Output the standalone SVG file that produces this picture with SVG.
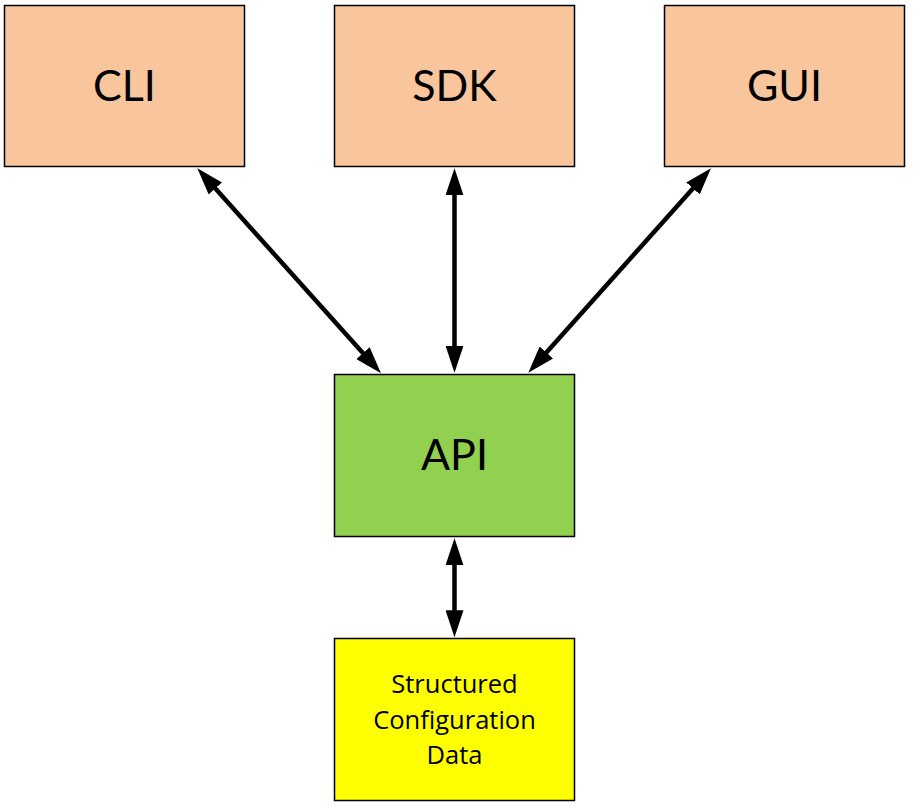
<svg xmlns="http://www.w3.org/2000/svg" width="917" height="808" viewBox="0 0 917 808">
  <style>
    .box { stroke: #000; stroke-width: 1.5; }
    .client { fill: #F8C59D; }
    .api { fill: #92D050; }
    .data { fill: #FFFF00; }
    .big { font-family: "Lato", "Open Sans", sans-serif; font-size: 43px; fill: #000; text-anchor: middle; }
    .small { font-family: "Open Sans", "Lato", sans-serif; font-size: 25.5px; fill: #000; text-anchor: middle; }
    .conn { stroke: #000; stroke-width: 4.5; fill: none; marker-start: url(#arrow); marker-end: url(#arrow); }
  </style>
  <defs>
    <marker id="arrow" viewBox="0 0 27 18" refX="17" refY="9" markerWidth="27" markerHeight="18" markerUnits="userSpaceOnUse" orient="auto-start-reverse">
      <path d="M0,0 L27,9 L0,18 Z" fill="#000"/>
    </marker>
  </defs>
  <rect width="917" height="808" fill="#fff"/>
  <g id="connectors">
    <line class="conn" x1="204" y1="175.75" x2="374.3" y2="365.85"/>
    <line class="conn" x1="454.5" y1="178.3" x2="454.5" y2="362.7"/>
    <line class="conn" x1="704.3" y1="175.76" x2="535" y2="365.2"/>
    <line class="conn" x1="454.5" y1="548.3" x2="454.5" y2="627.3"/>
  </g>
  <g id="cli">
    <rect class="box client" x="4.5" y="5.5" width="240" height="161"/>
    <text class="big" x="124.5" y="101">CLI</text>
  </g>
  <g id="sdk">
    <rect class="box client" x="334.5" y="5.5" width="240" height="161"/>
    <text class="big" x="454.5" y="101">SDK</text>
  </g>
  <g id="gui">
    <rect class="box client" x="664.5" y="5.5" width="240" height="161"/>
    <text class="big" x="784.5" y="101">GUI</text>
  </g>
  <g id="api">
    <rect class="box api" x="334.5" y="374.5" width="240" height="162"/>
    <text class="big" x="454.5" y="470">API</text>
  </g>
  <g id="data">
    <rect class="box data" x="334.5" y="638.5" width="240" height="162"/>
    <text class="small" x="454.5" y="693">Structured</text>
    <text class="small" x="454.5" y="728.5">Configuration</text>
    <text class="small" x="454.5" y="764">Data</text>
  </g>
</svg>
